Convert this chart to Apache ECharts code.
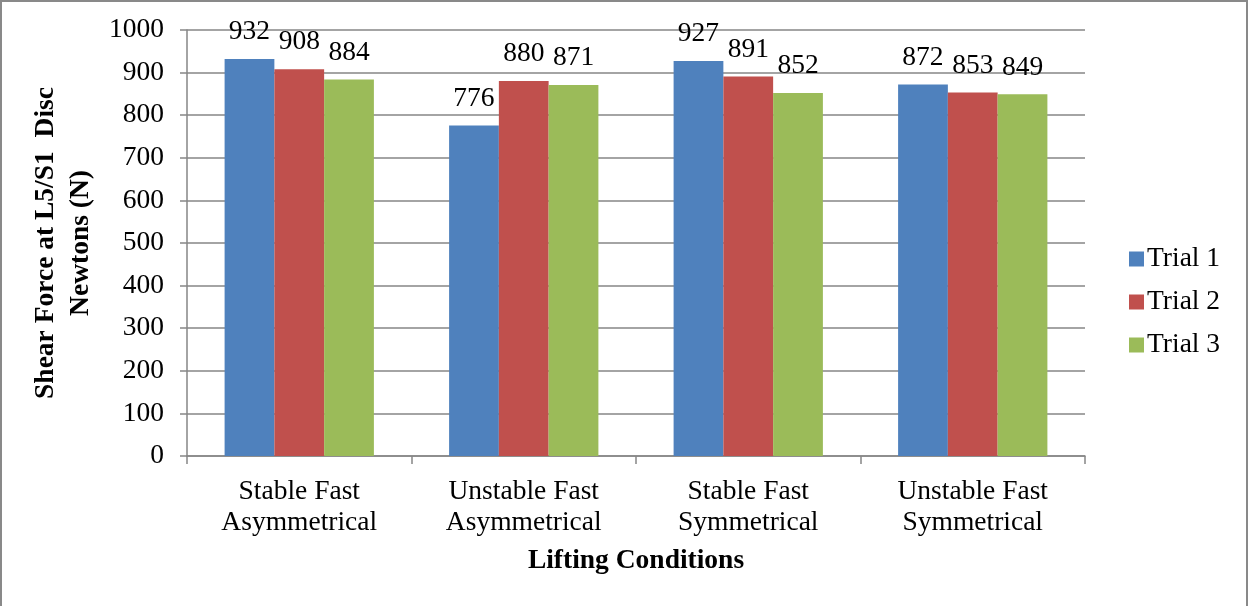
<!DOCTYPE html>
<html><head><meta charset="utf-8">
<script src="https://cdn.jsdelivr.net/npm/echarts@6/dist/echarts.min.js"></script>
<style>html,body{margin:0;padding:0;background:#fff;overflow:hidden}#c{width:1249px;height:606px}</style>
</head><body><div id="c"></div>
<script>
const categories = ['Stable Fast\nAsymmetrical', 'Unstable Fast\nAsymmetrical', 'Stable Fast\nSymmetrical', 'Unstable Fast\nSymmetrical'];
const trial1 = [932, 776, 927, 872];
const trial2 = [908, 880, 891, 853];
const trial3 = [884, 871, 852, 849];
const seriesNames = ['Trial 1', 'Trial 2', 'Trial 3'];
const colors = ['#4F81BD', '#C0504D', '#9BBB59'];
const yTicks = {min: 0, max: 1000, interval: 100};

const font = 'Liberation Serif';
const fs = 27.5;
const chart = echarts.init(document.getElementById('c'), null, {renderer: 'canvas'});
const mk = (name, data, i) => ({
  name, type: 'bar', data, barGap: '0%', barCategoryGap: '33.5%',
  itemStyle: {color: colors[i]},
  label: {show: true, position: 'top', distance: 13, color: '#000', fontFamily: font, fontSize: fs}
});
chart.setOption({
  animation: false,
  textStyle: {fontFamily: font},
  graphic: [{type: 'rect', shape: {x: 1, y: 1, width: 1246, height: 620}, style: {fill: 'none', stroke: '#898989', lineWidth: 2}, silent: true}],
  grid: {left: 187, right: 164, top: 30, bottom: 150, containLabel: false},
  legend: {
    orient: 'vertical', left: 1124, top: 240, itemGap: 15, itemWidth: 15, itemHeight: 15,
    icon: 'rect', textStyle: {fontFamily: font, fontSize: fs, lineHeight: 28, color: '#000', padding: [0,0,0,-2]},
    data: seriesNames
  },
  xAxis: {
    type: 'category', data: categories,
    name: 'Lifting Conditions', nameLocation: 'middle', nameGap: 91,
    nameTextStyle: {fontFamily: font, fontSize: fs, fontWeight: 'bold', color: '#000'},
    axisLine: {lineStyle: {color: '#868686', width: 1.5}},
    axisTick: {show: true, length: 8, lineStyle: {color: '#868686', width: 1.5}},
    axisLabel: {fontFamily: font, fontSize: fs, color: '#000', margin: 20, lineHeight: 31}
  },
  yAxis: {
    type: 'value', min: yTicks.min, max: yTicks.max, interval: yTicks.interval,
    name: 'Shear Force at L5/S1  Disc\nNewtons (N)', nameLocation: 'middle', nameGap: 86,
    nameTextStyle: {fontFamily: font, fontSize: fs, fontWeight: 'bold', color: '#000', lineHeight: 35},
    axisLine: {show: true, lineStyle: {color: '#868686', width: 1.5}},
    axisTick: {show: true, length: 7, lineStyle: {color: '#868686', width: 1.5}},
    splitLine: {lineStyle: {color: '#868686', width: 1.5}},
    axisLabel: {fontFamily: font, fontSize: fs, color: '#000', margin: 23, formatter: v => String(v)}
  },
  series: [mk(seriesNames[0], trial1, 0), mk(seriesNames[1], trial2, 1), mk(seriesNames[2], trial3, 2)]
});
</script></body></html>
